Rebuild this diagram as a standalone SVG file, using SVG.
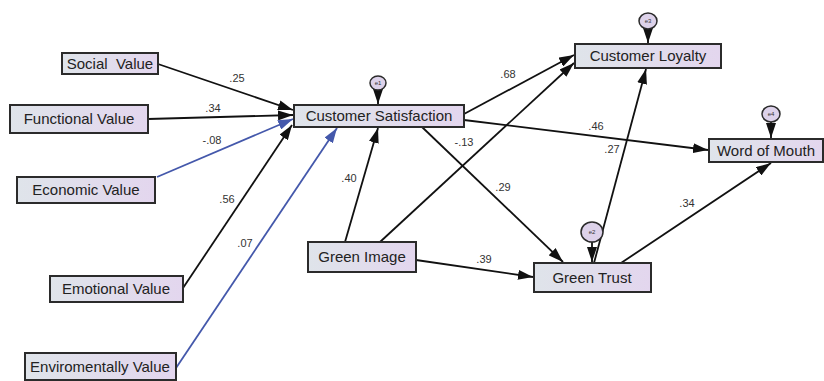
<svg xmlns="http://www.w3.org/2000/svg" width="824" height="381" viewBox="0 0 824 381">
<style>
.box{fill:url(#g);stroke:#2b2b2b;stroke-width:2}
.lbl{font-family:"Liberation Sans",Arial,sans-serif;font-size:15px;fill:#222;text-anchor:middle;white-space:pre}
.num{font-family:"Liberation Sans",Arial,sans-serif;font-size:11px;fill:#333;text-anchor:middle}
.err{fill:#ddd2ea;stroke:#2b2b2b;stroke-width:1.5}
.et{font-family:"Liberation Sans",Arial,sans-serif;font-size:6px;fill:#333;text-anchor:middle}
.k{stroke:#111;stroke-width:1.8;fill:none;marker-end:url(#ak)}
.b{stroke:#4458ab;stroke-width:1.8;fill:none;marker-end:url(#ab)}
</style>
<defs>
<linearGradient id="g" x1="0" y1="0" x2="1" y2="0">
<stop offset="0" stop-color="#dfe4ea"/>
<stop offset="1" stop-color="#e3d6ee"/>
</linearGradient>
<marker id="ak" markerUnits="userSpaceOnUse" markerWidth="16" markerHeight="10" refX="15" refY="5" orient="auto">
<path d="M0,0 L15,5 L0,10 z" fill="#111"/>
</marker>
<marker id="ab" markerUnits="userSpaceOnUse" markerWidth="16" markerHeight="10" refX="15" refY="5" orient="auto">
<path d="M0,0 L15,5 L0,10 z" fill="#4458ab"/>
</marker>
</defs>
<rect width="824" height="381" fill="#fff"/>
<g id="connectors">
<line class="k" x1="158" y1="64" x2="293" y2="110"/>
<line class="k" x1="148" y1="119" x2="293" y2="115"/>
<line class="b" x1="157" y1="177" x2="293" y2="119"/>
<line class="k" x1="183" y1="288" x2="292" y2="125"/>
<line class="b" x1="176" y1="368" x2="337" y2="128"/>
<line class="k" x1="345" y1="242" x2="378" y2="128"/>
<line class="k" x1="380" y1="242" x2="574" y2="63"/>
<line class="k" x1="464" y1="114" x2="574" y2="55"/>
<line class="k" x1="464" y1="120" x2="708" y2="150"/>
<line class="k" x1="422" y1="127" x2="563" y2="262"/>
<line class="k" x1="416" y1="260" x2="533" y2="277"/>
<line class="k" x1="594" y1="263" x2="646" y2="69"/>
<line class="k" x1="621" y1="263" x2="771" y2="163"/>
<line class="k" x1="378" y1="90" x2="378" y2="104"/>
<line class="k" x1="648" y1="29" x2="648" y2="43"/>
<line class="k" x1="771" y1="122" x2="771" y2="138"/>
<line class="k" x1="592" y1="242" x2="592" y2="262"/>
</g>
<g id="labels">
<text class="num" x="237" y="82">.25</text>
<text class="num" x="213" y="112">.34</text>
<text class="num" x="212" y="144">-.08</text>
<text class="num" x="227" y="203">.56</text>
<text class="num" x="245" y="247">.07</text>
<text class="num" x="349" y="182">.40</text>
<text class="num" x="464" y="146">-.13</text>
<text class="num" x="508" y="78">.68</text>
<text class="num" x="596" y="130">.46</text>
<text class="num" x="612" y="153">.27</text>
<text class="num" x="503" y="191">.29</text>
<text class="num" x="484" y="263">.39</text>
<text class="num" x="687" y="207">.34</text>
</g>
<g id="social"><rect class="box" x="62" y="53" width="96" height="21"/><text class="lbl" x="110" y="69" xml:space="preserve">Social  Value</text></g>
<g id="functional"><rect class="box" x="10" y="105" width="138" height="28"/><text class="lbl" x="79" y="124">Functional Value</text></g>
<g id="economic"><rect class="box" x="17" y="177" width="138" height="26"/><text class="lbl" x="86" y="195">Economic Value</text></g>
<g id="emotional"><rect class="box" x="50" y="276" width="133" height="26"/><text class="lbl" x="116" y="294">Emotional Value</text></g>
<g id="environmental"><rect class="box" x="25" y="353" width="151" height="27"/><text class="lbl" x="100" y="372">Enviromentally Value</text></g>
<g id="satisfaction"><rect class="box" x="294" y="105" width="170" height="22"/><text class="lbl" x="379" y="121">Customer Satisfaction</text></g>
<g id="loyalty"><rect class="box" x="575" y="44" width="146" height="24"/><text class="lbl" x="648" y="61">Customer Loyalty</text></g>
<g id="wom"><rect class="box" x="709" y="139" width="114" height="23"/><text class="lbl" x="766" y="156">Word of Mouth</text></g>
<g id="image"><rect class="box" x="308" y="242" width="108" height="30"/><text class="lbl" x="362" y="262">Green Image</text></g>
<g id="trust"><rect class="box" x="534" y="263" width="117" height="29"/><text class="lbl" x="592" y="283">Green Trust</text></g>
<g id="e1"><ellipse class="err" cx="378" cy="83" rx="8" ry="7"/><text class="et" x="378" y="85">e1</text></g>
<g id="e3"><ellipse class="err" cx="648" cy="21" rx="9" ry="8"/><text class="et" x="648" y="23">e3</text></g>
<g id="e4"><ellipse class="err" cx="771" cy="114" rx="9" ry="8"/><text class="et" x="771" y="116">e4</text></g>
<g id="e2"><ellipse class="err" cx="592" cy="232" rx="11" ry="10"/><text class="et" x="592" y="234">e2</text></g>
</svg>
